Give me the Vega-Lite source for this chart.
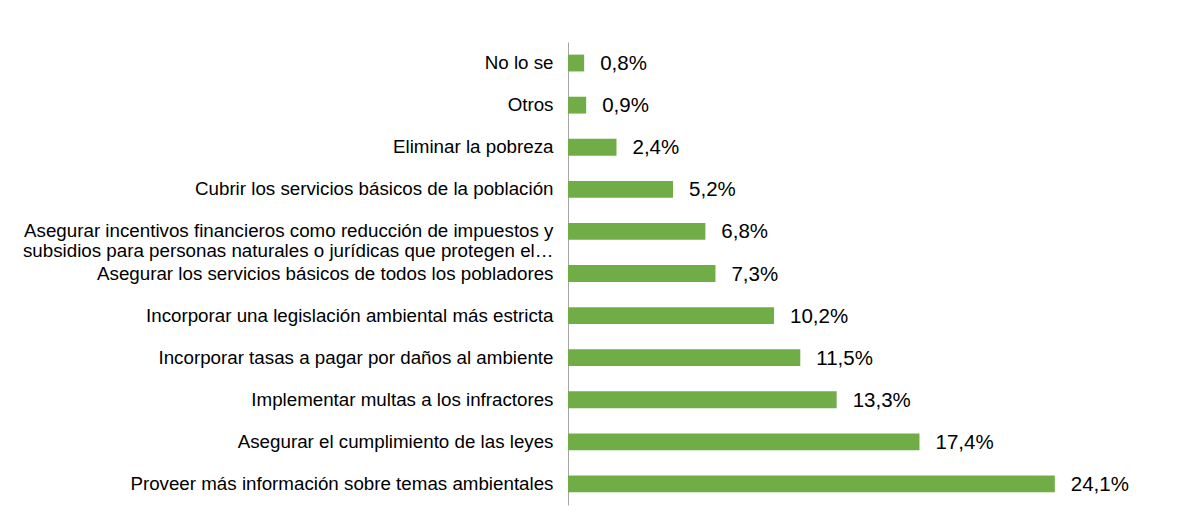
{
  "$schema": "https://vega.github.io/schema/vega-lite/v6.json",
  "width": 505,
  "height": 463,
  "autosize": {"type": "none"},
  "padding": {"left": 568, "top": 42, "right": 118, "bottom": 22},
  "background": "#ffffff",
  "config": {
    "font": "Liberation Sans",
    "view": {"stroke": null},
    "locale": {"number": {"decimal": ",", "thousands": ".", "grouping": [3], "currency": ["", " €"]}}
  },
  "data": {
    "values": [
      {"category": "No lo se", "share": 0.008},
      {"category": "Otros", "share": 0.009},
      {"category": "Eliminar la pobreza", "share": 0.024},
      {"category": "Cubrir los servicios básicos de la población", "share": 0.052},
      {"category": "Asegurar incentivos financieros como reducción de impuestos y|subsidios para personas naturales o jurídicas que protegen el…", "share": 0.068},
      {"category": "Asegurar los servicios básicos de todos los pobladores", "share": 0.073},
      {"category": "Incorporar una legislación ambiental más estricta", "share": 0.102},
      {"category": "Incorporar tasas a pagar por daños al ambiente", "share": 0.115},
      {"category": "Implementar multas a los infractores", "share": 0.133},
      {"category": "Asegurar el cumplimiento de las leyes", "share": 0.174},
      {"category": "Proveer más información sobre temas ambientales", "share": 0.241}
    ]
  },
  "encoding": {
    "y": {
      "field": "category",
      "type": "nominal",
      "sort": null,
      "scale": {"paddingInner": 0.6, "paddingOuter": 0.3},
      "axis": {
        "title": null,
        "ticks": false,
        "labelPadding": 15,
        "labelFontSize": 18.75,
        "labelColor": "#000000",
        "labelLimit": 0,
        "labelLineHeight": 20,
        "labelExpr": "split(datum.label, '|')",
        "domainColor": "#A6A6A6",
        "domainWidth": 1
      }
    },
    "x": {
      "field": "share",
      "type": "quantitative",
      "scale": {"domain": [0, 0.25]},
      "axis": null
    }
  },
  "layer": [
    {"mark": {"type": "bar", "color": "#70AD47"}},
    {
      "mark": {"type": "text", "align": "left", "baseline": "middle", "dx": 16, "dy": 1, "fontSize": 20.5, "color": "#000000"},
      "encoding": {"text": {"field": "share", "type": "quantitative", "format": ".1%"}}
    }
  ]
}
